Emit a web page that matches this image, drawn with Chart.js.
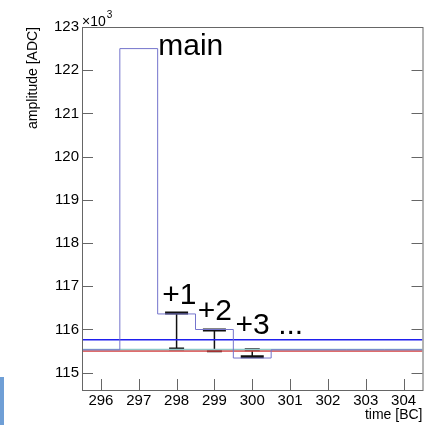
<!DOCTYPE html>
<html>
<head>
<meta charset="utf-8">
<script src="https://cdn.jsdelivr.net/npm/chart.js@4"></script>
<style>
  html, body { margin: 0; padding: 0; background: #fff; }
  #wrap { position: relative; width: 437px; height: 425px; }
  #tab { position: absolute; left: 0; top: 377px; width: 4px; height: 48px; background: #6f9fd6; }
</style>
</head>
<body>
<div id="wrap">
  <canvas id="c" width="437" height="425"></canvas>
  <div id="tab"></div>
</div>
<script>
// bins (lower edges) and histogram content, in 10^3 ADC
const binEdges = [295.5, 296.5, 297.5, 298.5, 299.5, 300.5, 301.5, 302.5, 303.5, 304.5];
const binValues = [115.53, 122.50, 116.36, 116.00, 115.34, 115.53, 115.53, 115.53, 115.53];

// reference levels
const blueLevel = 115.76;
const cyanLevel = 115.54;
const redLevel = 115.50;

// error bars: x, value end (wide cap), other end (narrow cap)
const errX = [298, 299, 300];
const errVal = [116.38, 115.99, 115.37];
const errEnd = [115.55, 115.51, 115.53];

const xTicks = [296, 297, 298, 299, 300, 301, 302, 303, 304];
const yTicks = [115, 116, 117, 118, 119, 120, 121, 122, 123];

const labelText = ['main', '+1', '+2', '+3 ...'];
const labelX = [297.515, 297.62, 298.56, 299.56];
const labelY = [122.35, 116.59, 116.22, 115.90];

const FONT = '"Liberation Sans", Arial, Helvetica, sans-serif';

// each point sits on a bin's low edge; the last one closes the final bin
const histData = binEdges.map((x, i) => ({ x: x, y: binValues[Math.min(i, binValues.length - 1)] }));

function level(v) {
  return [{ x: 295.5, y: v }, { x: 304.5, y: v }];
}

const datasets = [
  {
    data: histData, stepped: 'before', borderColor: '#7474cc', borderWidth: 1,
    pointRadius: 0, fill: false
  },
  { data: level(blueLevel), borderColor: '#1f1fee', borderWidth: 1.5, pointRadius: 0 },
  { data: level(cyanLevel), borderColor: '#8fcaca', borderWidth: 1.5, pointRadius: 0 },
  { data: level(redLevel), borderColor: '#d43c3c', borderWidth: 1.5, pointRadius: 0 }
];

errX.forEach((x, i) => {
  datasets.push({
    data: [{ x: x, y: errVal[i] }, { x: x, y: errEnd[i] }],
    borderColor: '#111', borderWidth: 1.5,
    pointStyle: 'line', pointRadius: [11.5, 7.5], pointBorderWidth: 3,
    pointBorderColor: '#111', pointHoverRadius: 0
  });
});

// ROOT-like frame, inward ticks, exponent and annotation text
const decor = {
  id: 'decor',
  afterDraw(chart) {
    const ctx = chart.ctx;
    const a = chart.chartArea;
    const xs = chart.scales.x, ys = chart.scales.y;
    ctx.save();
    ctx.strokeStyle = '#666';
    ctx.lineWidth = 1;
    ctx.strokeRect(a.left + 0.5, a.top + 0.5, a.right - a.left, a.bottom - a.top);
    ctx.beginPath();
    xTicks.forEach(v => {
      const px = Math.round(xs.getPixelForValue(v)) + 0.5;
      ctx.moveTo(px, a.bottom);
      ctx.lineTo(px, a.bottom - 11);
    });
    yTicks.forEach(v => {
      const py = Math.round(ys.getPixelForValue(v)) + 0.5;
      ctx.moveTo(a.left, py);
      ctx.lineTo(a.left + 11, py);
      ctx.moveTo(a.right, py);
      ctx.lineTo(a.right - 11, py);
    });
    ctx.stroke();

    ctx.fillStyle = '#000';
    ctx.textBaseline = 'alphabetic';
    ctx.textAlign = 'left';
    ctx.font = '14px ' + FONT;
    ctx.fillText('\u00d710', a.left, a.top - 1);
    const w = ctx.measureText('\u00d710').width;
    ctx.font = '10px ' + FONT;
    ctx.fillText('3', a.left + w + 1, a.top - 9);

    ctx.font = '30px ' + FONT;
    labelText.forEach((t, i) => {
      ctx.fillText(t, xs.getPixelForValue(labelX[i]), ys.getPixelForValue(labelY[i]));
    });
    ctx.restore();
  }
};

new Chart(document.getElementById('c'), {
  type: 'line',
  data: { datasets: datasets },
  options: {
    responsive: false,
    animation: false,
    events: [],
    layout: { padding: { left: 0, right: 11, top: 27, bottom: 0 } },
    plugins: { legend: { display: false }, tooltip: { enabled: false } },
    scales: {
      x: {
        type: 'linear', min: 295.5, max: 304.5,
        afterBuildTicks: s => { s.ticks = xTicks.map(v => ({ value: v })); },
        afterFit: s => { s.height = 35; },
        grid: { display: false, drawTicks: false },
        border: { display: false },
        ticks: { color: '#000', padding: 2, maxRotation: 0, font: { family: FONT, size: 15 } },
        title: {
          display: true, text: 'time [BC]', align: 'end', color: '#000',
          padding: { top: 0, bottom: 1 }, font: { family: FONT, size: 14 }
        }
      },
      y: {
        type: 'linear', min: 114.6, max: 123,
        afterBuildTicks: s => { s.ticks = yTicks.map(v => ({ value: v })); },
        afterFit: s => { s.width = 82; },
        grid: { display: false, drawTicks: false },
        border: { display: false },
        ticks: { color: '#000', padding: 3, font: { family: FONT, size: 15 } },
        title: {
          display: true, text: 'amplitude [ADC]', align: 'end', color: '#000',
          padding: { top: 25, bottom: 0 }, font: { family: FONT, size: 14 }
        }
      }
    }
  },
  plugins: [decor]
});
</script>
</body>
</html>
